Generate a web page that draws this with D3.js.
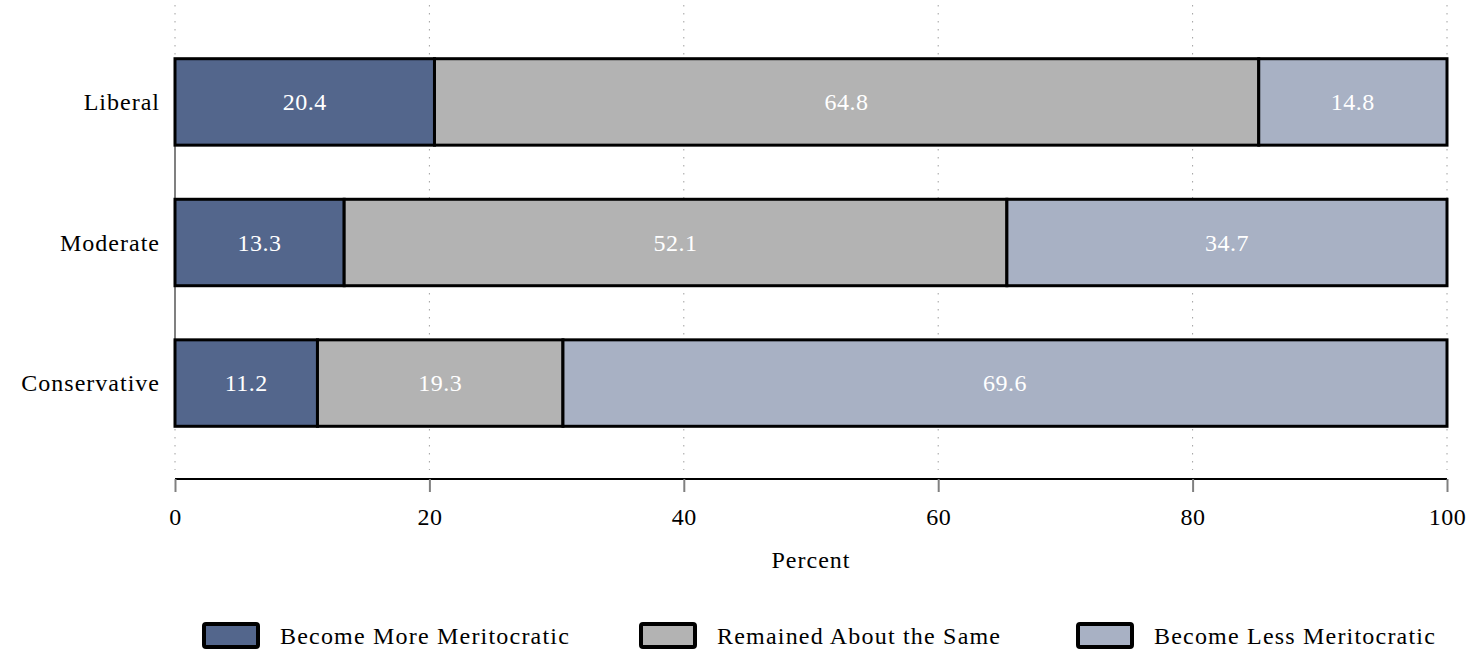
<!DOCTYPE html>
<html><head><meta charset="utf-8">
<script src="https://cdn.jsdelivr.net/npm/d3@7"></script>
<style>body{margin:0;background:#fff}svg{display:block}text{font-family:"Liberation Serif","DejaVu Serif",serif}</style>
</head><body><svg id="c" width="1476" height="650"></svg>
<script>
const categories = ["Liberal", "Moderate", "Conservative"];
const series = ["Become More Meritocratic", "Remained About the Same", "Become Less Meritocratic"];
const moreVals = [20.4, 13.3, 11.2];
const sameVals = [64.8, 52.1, 19.3];
const lessVals = [14.8, 34.7, 69.6];
const xTicks = [0, 20, 40, 60, 80, 100];
const colors = ["#53668C", "#B3B3B3", "#A8B1C4"];

const svg = d3.select("#c");
const x = d3.scaleLinear().domain([0, 100]).range([175, 1447]);
const y = d3.scaleBand().domain(categories).range([32, 453]).paddingInner(0.385).paddingOuter(0.19);

// gridlines
svg.append("g").selectAll("line").data(xTicks).join("line")
  .attr("x1", d => x(d)).attr("x2", d => x(d)).attr("y1", 5).attr("y2", 470)
  .attr("stroke", "#a0a0a0").attr("stroke-width", 1).attr("stroke-dasharray", "1.5,6.5");

// y axis line (gray, category center to center)
svg.append("line").attr("x1", x(0)).attr("x2", x(0))
  .attr("y1", y(categories[0]) + y.bandwidth()/2).attr("y2", y(categories[2]) + y.bandwidth()/2)
  .attr("stroke", "#808080").attr("stroke-width", 2);

const rows = categories.map((c, i) => {
  const vals = [moreVals[i], sameVals[i], lessVals[i]];
  let acc = 0;
  return vals.map((v, j) => { const s = {cat: c, j, v, x0: acc, x1: acc + v}; acc += v; return s; });
}).flat();

const g = svg.append("g");
g.selectAll("rect").data(rows).join("rect")
  .attr("x", d => x(d.x0)).attr("width", d => x(Math.min(d.x1,100)) - x(d.x0))
  .attr("y", d => y(d.cat)).attr("height", y.bandwidth())
  .attr("fill", d => colors[d.j]).attr("stroke", "#000").attr("stroke-width", 3);

g.selectAll("text").data(rows).join("text")
  .attr("x", d => (x(d.x0) + x(Math.min(d.x1,100)))/2).attr("y", d => y(d.cat) + y.bandwidth()/2)
  .attr("dy", "0.35em").attr("text-anchor", "middle").attr("fill", "#fff").attr("font-size", 24)
  .attr("letter-spacing", 0.5)
  .text(d => d.v.toFixed(1));

// category labels
svg.append("g").selectAll("text").data(categories).join("text")
  .attr("x", 160).attr("y", d => y(d) + y.bandwidth()/2).attr("dy", "0.35em")
  .attr("text-anchor", "end").attr("font-size", 24).attr("letter-spacing", 1)
  .attr("fill", "#000").text(d => d);

// x axis
const ax = svg.append("g").attr("transform", "translate(0,479)")
  .call(d3.axisBottom(x).tickValues(xTicks).tickSize(13).tickPadding(16).tickFormat(d3.format("d")));
ax.select(".domain").attr("stroke", "#000").attr("stroke-width", 2).attr("d", `M${x(0)},0H${x(100)}`);
ax.selectAll(".tick line").attr("stroke", "#808080").attr("stroke-width", 2);
ax.selectAll(".tick text").attr("font-size", 24).attr("letter-spacing", 0.5).attr("fill", "#000")
  .attr("font-family", "Liberation Serif, serif");

svg.append("text").attr("x", (x(0)+x(100))/2).attr("y", 568).attr("text-anchor", "middle")
  .attr("font-size", 24).attr("letter-spacing", 1).attr("fill", "#000").text("Percent");

// legend
const legX = [204, 641, 1078];
const leg = svg.append("g").selectAll("g").data(series).join("g")
  .attr("transform", (d, i) => `translate(${legX[i]},624)`);
leg.append("rect").attr("width", 54).attr("height", 23).attr("rx", 2)
  .attr("fill", (d, i) => colors[i]).attr("stroke", "#000").attr("stroke-width", 4);
leg.append("text").attr("x", 76).attr("y", 12).attr("dy", "0.35em").attr("font-size", 24)
  .attr("letter-spacing", 1.2).attr("fill", "#000").text(d => d);
</script></body></html>
